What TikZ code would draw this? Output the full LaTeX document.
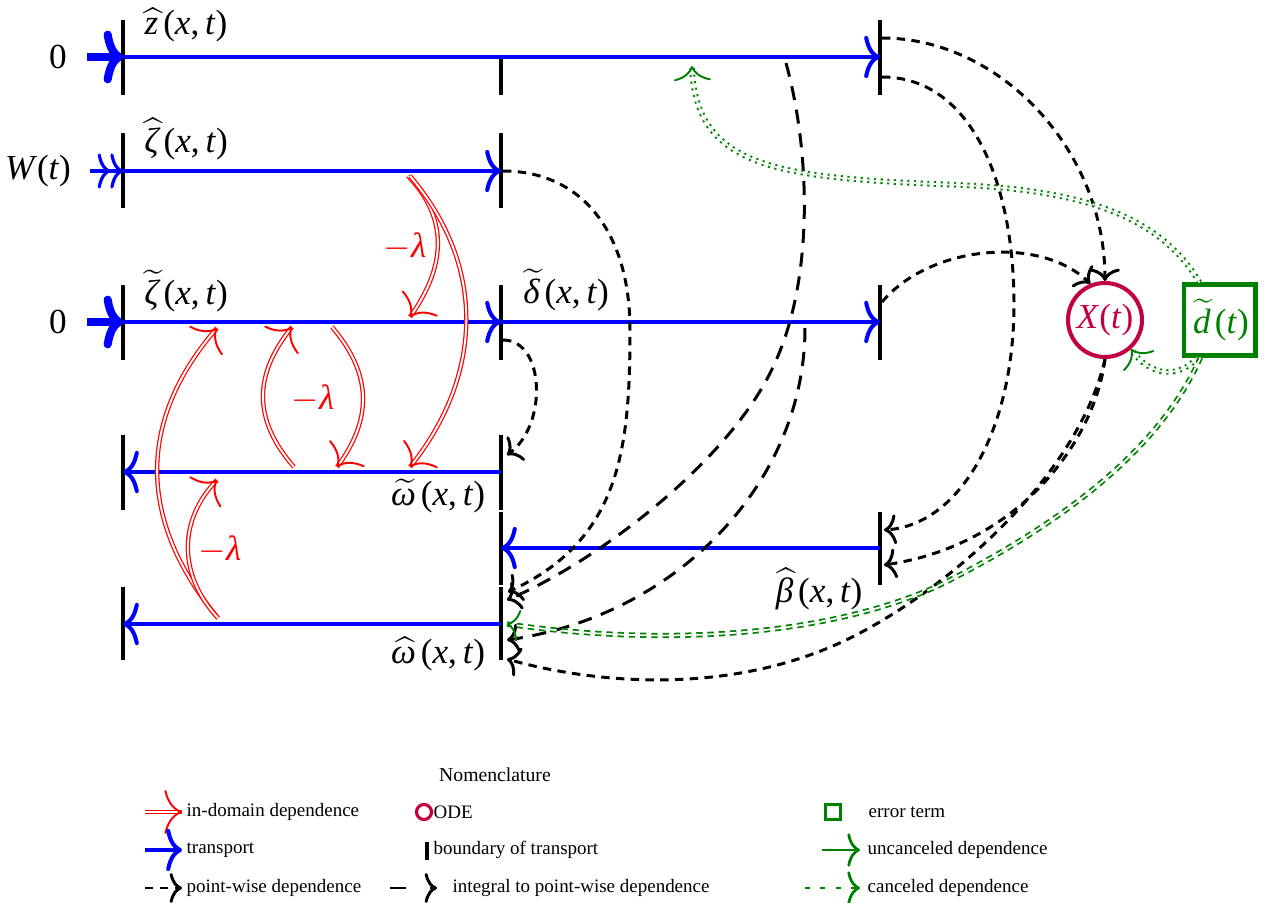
\documentclass[tikz,border=0pt]{standalone}
\usepackage{fontspec}
\setmainfont{Liberation Serif}
\usetikzlibrary{arrows.meta}
\definecolor{odec}{RGB}{195,0,65}
\definecolor{errc}{RGB}{0,128,0}
\newcommand\iv[1]{\textit{#1}}
\newcommand\lblxt[2]{$#1{\kern0.6pt\textit{#2}\kern1.4pt}$(\iv{x},\,\iv{t})}
\begin{document}
\begin{tikzpicture}[x=0.01cm,y=-0.01cm,
  bar/.style={line width=1.1pt, black},
  tr/.style={draw=blue, line width=1.15pt, -{Computer Modern Rightarrow[length=4.5pt,width=12pt]}},
  entry/.style={draw=blue, line width=2.3pt, -{Computer Modern Rightarrow[length=5.5pt,width=15pt]}},
  entryw/.style={draw=blue, line width=0.9pt, -{Computer Modern Rightarrow[length=3.6pt,width=10pt] Computer Modern Rightarrow[length=3.6pt,width=10pt]}},
  pw/.style={line width=0.85pt, dash pattern=on 2.4pt off 1.8pt, -{Computer Modern Rightarrow[length=3.5pt,width=8.5pt]}},
  ip/.style={line width=0.85pt, dash pattern=on 4pt off 2.8pt, -{Computer Modern Rightarrow[length=3.5pt,width=8.5pt]}},
  dom/.style={draw=red, line width=0.55pt, dash pattern=on 0pt off 2000pt,
    -{Computer Modern Rightarrow[length=5pt,width=12.5pt]},
    preaction={draw=red, solid, arrows=-, double=white, line width=0.35pt, double distance=0.55pt}},
  unc/.style={draw=errc, line width=0.55pt, dash pattern=on 0pt off 2000pt,
    -{Computer Modern Rightarrow[length=4.2pt,width=10.5pt]},
    preaction={draw=errc, arrows=-, double=white, line width=0.55pt, double distance=0.5pt, dash pattern=on 0.6pt off 1.3pt}},
  can/.style={draw=errc, line width=0.55pt, dash pattern=on 0pt off 2000pt,
    -{Computer Modern Rightarrow[length=3.5pt,width=9pt]},
    preaction={draw=errc, arrows=-, double=white, line width=0.5pt, double distance=0.5pt, dash pattern=on 1.8pt off 1.4pt}},
  lab/.style={inner sep=1pt},
  lam/.style={text=red, inner sep=1pt},
  leg/.style={font=\fontsize{5.4}{6.4}\selectfont, inner sep=0pt, anchor=west}
]
\useasboundingbox (0,0) rectangle (1265,903);

% ---------- row coordinates ----------
\coordinate (A1) at (123,57);  \coordinate (C1) at (880,57);
\coordinate (A2) at (123,171); \coordinate (B2) at (501,171);
\coordinate (A3) at (123,322); \coordinate (B3) at (501,322); \coordinate (C3) at (880,322);
\coordinate (A4) at (123,472); \coordinate (B4) at (501,472);
\coordinate (B5) at (501,548); \coordinate (C5) at (880,548);
\coordinate (A6) at (123,624); \coordinate (B6) at (501,624);

% ---------- boundaries ----------
\draw[bar] (123,20) -- (123,95);
\draw[bar] (501,57) -- (501,95);
\draw[bar] (880,20) -- (880,95);
\draw[bar] (123,133) -- (123,208);
\draw[bar] (501,133) -- (501,208);
\draw[bar] (123,285) -- (123,360);
\draw[bar] (501,285) -- (501,360);
\draw[bar] (880,285) -- (880,360);
\draw[bar] (123,435) -- (123,510);
\draw[bar] (501,435) -- (501,510);
\draw[bar] (501,512) -- (501,585);
\draw[bar] (880,512) -- (880,585);
\draw[bar] (123,587) -- (123,660);
\draw[bar] (501,587) -- (501,660);

% ---------- transport ----------
\draw[tr] (A1) -- (C1);
\draw[tr] (A2) -- (B2);
\draw[tr] (A3) -- (B3);
\draw[tr] (B3) -- (C3);
\draw[tr] (B4) -- (A4);
\draw[tr] (C5) -- (B5);
\draw[tr] (B6) -- (A6);

% ---------- inputs ----------
\node[lab] (in1) at (58,57) {0};
\node[lab] (in2) at (38,171) {\iv{W}(\iv{t})};
\node[lab] (in3) at (58,322) {0};
\draw[entry] ([xshift=0.16cm]in1.east) -- (A1);
\draw[entryw] ([xshift=0.15cm]in2.east) -- (A2);
\draw[entry] ([xshift=0.16cm]in3.east) -- (A3);

% ---------- state labels ----------
\node[lab] (lz)  at (185,25)  {\lblxt{\widehat}{z}};
\node[lab] (lzh) at (185,139) {\lblxt{\widehat}{ζ}};
\node[lab] (lzt) at (185,291) {\lblxt{\widetilde}{ζ}};
\node[lab] (ldt) at (565,290) {\lblxt{\widetilde}{δ}};
\node[lab] (lwt) at (437,496) {\lblxt{\widetilde}{ω}};
\node[lab] (lbh) at (818,589) {\lblxt{\widehat}{β}};
\node[lab] (lwh) at (437,654) {\lblxt{\widehat}{ω}};

% ---------- ODE and error term ----------
\node[circle, draw=odec, line width=1.15pt, minimum size=0.74cm, inner sep=0pt, text=odec] (X) at (1105,320) {\iv{X}(\iv{t})};
\node[draw=errc, line width=1.15pt, minimum size=0.71cm, inner sep=1pt, text=errc] (d) at (1220,320) {$\widetilde{\kern0.5pt\textit{d}\kern1.2pt}$(\iv{t})};

% ---------- in-domain (red) ----------
\coordinate (r1s) at (408,176); \coordinate (r1e) at (410,317);
\coordinate (r2s) at (410,176); \coordinate (r2e) at (410,467);
\coordinate (r3s) at (294,467); \coordinate (r3e) at (292,327);
\coordinate (r4s) at (332,327); \coordinate (r4e) at (337,467);
\coordinate (r5s) at (218,618); \coordinate (r5e) at (217,328);
\coordinate (r6s) at (218,618); \coordinate (r6e) at (217,480);
\draw[dom] (r1s) .. controls (450,220) and (445,268) .. (r1e);
\draw[dom] (r2s) .. controls (490,270) and (480,380) .. (r2e);
\draw[dom] (r3s) .. controls (253,420) and (253,375) .. (r3e);
\draw[dom] (r4s) .. controls (373,375) and (372,420) .. (r4e);
\draw[dom] (r5s) .. controls (137,520) and (137,420) .. (r5e);
\draw[dom] (r6s) .. controls (178,575) and (178,520) .. (r6e);
\node[lam] (lam1) at (405,247) {$-$\iv{λ}};
\node[lam] (lam2) at (313,399) {$-$\iv{λ}};
\node[lam] (lam3) at (220,550) {$-$\iv{λ}};

% ---------- point-wise (black dashed) ----------
\coordinate (p1s) at (503,171); \coordinate (p1e) at (508,592);
\coordinate (p2s) at (503,340); \coordinate (p2e) at (507,455);
\coordinate (p3s) at (882,38);
\coordinate (p4s) at (882,77);  \coordinate (p4e) at (884,530);
\coordinate (p5s) at (882,302);
\coordinate (p6e) at (884,565);
\coordinate (p7e) at (507,659);
\draw[pw] (p1s) .. controls (580,171) and (630,230) .. (630,330) .. controls (630,450) and (620,540) .. (p1e);
\draw[pw] (p2s) .. controls (545,340) and (548,425) .. (p2e);
\draw[pw] (p3s) .. controls (1000,38) and (1105,150) .. (X.north);
\draw[pw] (p4s) .. controls (970,77) and (1013,180) .. (1014,300) .. controls (1015,430) and (960,525) .. (p4e);
\draw[pw] (p5s) .. controls (930,245) and (1040,235) .. (X.112);
\draw[pw] (X.south) .. controls (1095,440) and (1020,545) .. (p6e);
\draw[pw] (X.south) .. controls (1080,470) and (960,580) .. (860,633) .. controls (730,702) and (580,680) .. (p7e);

% ---------- integral to point-wise (long dashes) ----------
\coordinate (l1s) at (786,63);  \coordinate (l1e) at (507,600);
\coordinate (l2s) at (805,328); \coordinate (l2e) at (507,640);
\draw[ip] (l1s) .. controls (810,150) and (815,280) .. (773,367) .. controls (730,460) and (600,560) .. (l1e);
\draw[ip] (l2s) .. controls (805,480) and (680,615) .. (l2e);

% ---------- error term dependences (green) ----------
\coordinate (g1e) at (692,66);
\coordinate (g3e) at (507,624);
\draw[unc] ([xshift=0.17cm]d.north west) .. controls (1160,215) and (1080,190) .. (960,185) .. controls (780,178) and (695,170) .. (g1e);
\draw[unc] ([xshift=0.15cm]d.south west) .. controls (1180,378) and (1150,378) .. (X.-48);
\draw[can] ([xshift=0.18cm]d.south west) .. controls (1160,450) and (1060,525) .. (940,585) .. controls (820,640) and (650,645) .. (g3e);

% ---------- legend ----------
\node[font=\fontsize{5.6}{6.6}\selectfont, inner sep=0pt] (nom) at (495,775) {Nomenclature};
\coordinate (k1s) at (145,812); \coordinate (k1e) at (182,812);
\coordinate (k2s) at (145,850); \coordinate (k2e) at (182,850);
\coordinate (k3s) at (145,888); \coordinate (k3e) at (182,888);
\coordinate (k4s) at (390,888); \coordinate (k4e) at (437,888);
\coordinate (k5s) at (822,850); \coordinate (k5e) at (860,850);
\coordinate (k6s) at (805,888); \coordinate (k6e) at (860,888);
\draw[dom] (k1s) -- (k1e);
\node[leg] (t1) at (186,812) {in-domain dependence};
\draw[tr] (k2s) -- (k2e);
\node[leg] (t2) at (186,850) {transport};
\draw[line width=0.85pt, -{Computer Modern Rightarrow[length=3.5pt,width=8.5pt]}, dash pattern=on 2.4pt off 1.8pt] (k3s) -- (k3e);
\node[leg] (t3) at (186,888) {point-wise dependence};
\node[circle, draw=odec, line width=0.9pt, minimum size=0.15cm, inner sep=0pt] (kode) at (424,812) {};
\node[leg] (t4) at (433,812) {ODE};
\draw[line width=1pt] (427,842) -- (427,860);
\node[leg] (t5) at (433,850) {boundary of transport};
\draw[line width=0.85pt, -{Computer Modern Rightarrow[length=3.5pt,width=8.5pt]}, dash pattern=on 4.5pt off 7pt] (k4s) -- (k4e);
\node[leg] (t6) at (452,888) {integral to point-wise dependence};
\node[draw=errc, line width=0.9pt, minimum size=0.15cm, inner sep=0pt] (kerr) at (833,812) {};
\node[leg] (t7) at (868,812) {error term};
\draw[errc, line width=0.8pt, -{Computer Modern Rightarrow[length=3.6pt,width=9.5pt]}] (k5s) -- (k5e);
\node[leg] (t8) at (867,850) {uncanceled dependence};
\draw[errc, line width=0.8pt, dash pattern=on 1.4pt off 3pt, -{Computer Modern Rightarrow[length=3.6pt,width=9.5pt]}] (k6s) -- (k6e);
\node[leg] (t9) at (867,888) {canceled dependence};
\end{tikzpicture}
\end{document}
